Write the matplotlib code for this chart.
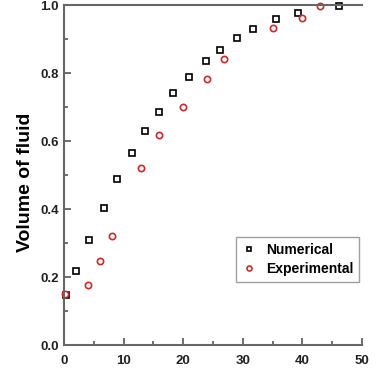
import matplotlib
matplotlib.use("Agg")
import matplotlib.pyplot as plt

# Numerical results (black squares)
num_x = [0.3, 2.0, 4.2, 6.7, 8.9, 11.4, 13.6, 16.0, 18.3, 21.0, 23.9, 26.2,
         29.1, 31.8, 35.6, 39.2, 46.1]
num_y = [0.147, 0.218, 0.309, 0.403, 0.488, 0.565, 0.629, 0.685, 0.741, 0.788,
         0.835, 0.868, 0.903, 0.929, 0.959, 0.976, 0.997]

# Experimental results (red circles)
exp_x = [0.2, 4.0, 6.1, 8.1, 12.9, 16.0, 20.0, 24.0, 26.9, 35.0, 40.0, 43.0]
exp_y = [0.15, 0.176, 0.247, 0.321, 0.521, 0.618, 0.700, 0.782, 0.841, 0.932,
         0.962, 0.997]

x_ticks = [0, 10, 20, 30, 40, 50]
y_ticks = [0.0, 0.2, 0.4, 0.6, 0.8, 1.0]

plt.rcParams['font.family'] = ['Liberation Sans', 'DejaVu Sans']

fig = plt.figure(figsize=(3.85, 3.76), dpi=100)
ax = fig.add_axes([0.166, 0.0824, 0.774, 0.904])

ax.plot(num_x, num_y, linestyle='none', marker='s', markersize=4,
        markerfacecolor='white', markeredgecolor='black', markeredgewidth=1.2,
        label='Numerical', clip_on=False)
ax.plot(exp_x, exp_y, linestyle='none', marker='o', markersize=4.5,
        markerfacecolor='white', markeredgecolor='#d02828', markeredgewidth=1.2,
        label='Experimental', clip_on=False)

ax.set_xlim(0, 50)
ax.set_ylim(0, 1.0)
ax.set_xticks(x_ticks)
ax.set_yticks(y_ticks)
ax.set_xticks([5, 15, 25, 35, 45], minor=True)
ax.set_yticks([0.1, 0.3, 0.5, 0.7, 0.9], minor=True)
ax.set_yticklabels([f'{v:.1f}' for v in y_ticks])

ax.tick_params(which='both', direction='in', colors='#555555',
               labelcolor='#222222', labelsize=9.5, width=1.2)
ax.tick_params(which='major', length=5)
ax.tick_params(which='minor', length=3)
ax.tick_params(axis='x', pad=7)
for lab in ax.get_xticklabels() + ax.get_yticklabels():
    lab.set_fontweight('bold')

ax.spines['right'].set_visible(False)
for s in ['left', 'bottom', 'top']:
    ax.spines[s].set_color('#666666')
    ax.spines[s].set_linewidth(1.5)

ax.set_ylabel('Volume of fluid', fontsize=14, fontweight='bold')
ax.yaxis.set_label_coords(-0.102, 0.48)

leg = ax.legend(loc='lower right', bbox_to_anchor=(1.015, 0.165),
                frameon=True, fancybox=False, fontsize=10, handlelength=1.0,
                handletextpad=0.7, borderpad=0.45, labelspacing=0.35,
                markerscale=0.8)
leg.get_frame().set_edgecolor('#888888')
leg.get_frame().set_linewidth(1.0)
for t in leg.get_texts():
    t.set_fontweight('bold')

fig.savefig('out.png', dpi=100)
